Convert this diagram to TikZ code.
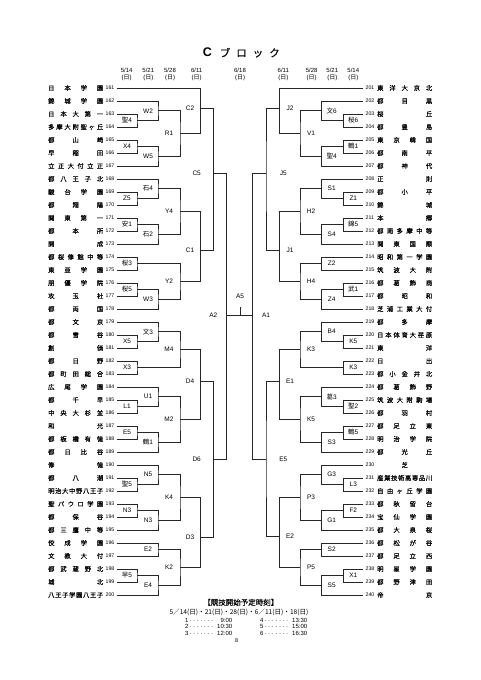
\documentclass[tikz,border=0pt]{standalone}
\usepackage{fontspec}
\setmainfont{Liberation Sans}
\newfontfamily\jp{Noto Sans CJK JP}
\newfontfamily\jpb{Noto Sans CJK JP}[FakeBold=0.3]
\def\spreadA#1{\ifx#1\relax\else#1\expandafter\spreadB\fi}
\def\spreadB#1{\ifx#1\relax\else\hfill#1\expandafter\spreadB\fi}
\newcommand\jname[1]{\hbox to 55pt{\jpb\expandafter\spreadA#1\relax}}
\newcommand\tleader[2]{\hbox to 47pt{#1\leaders\hbox to 3.6pt{\hss·\hss}\hfill\hbox to 15pt{\hss #2}}}
\tikzset{
  br/.style={line width=0.75pt, black!85},
  lab/.style={font=\fontsize{6.5}{7}\selectfont, inner sep=0pt},
  tname/.style={font=\fontsize{6.3}{7}\selectfont, inner sep=0pt},
  tnum/.style={font=\fontsize{5.2}{6}\selectfont, inner sep=0pt},
  datehd/.style={font=\fontsize{6}{7.3}\selectfont, inner sep=0pt, align=center},
  foot/.style={font=\fontsize{6}{7}\selectfont, inner sep=0pt},
}
\newcommand\mt[7]{%
  \coordinate (#1) at (#2,#3);
  \draw[br] (#4) -| (#1) |- (#5);
  \node[lab] (#1t) at (#7,#3) {#6};}
\begin{document}
\begin{tikzpicture}[x=1pt,y=-1pt]
\useasboundingbox[fill=white] (0,0) rectangle (481,680);
% title
\node[inner sep=0pt] (title) at (241.3,52.7) {{\fontsize{12.5}{14}\selectfont\bfseries C}\hspace{8pt}{\jpb\fontsize{10.5}{12}\selectfont ブ\hspace{6pt}ロ\hspace{6pt}ッ\hspace{6pt}ク}};
% dates
\foreach \dx/\dd [count=\j] in {126.7/5\slash14, 148.3/5\slash21, 170/5\slash28, 196.7/6\slash11, 240/6\slash18, 283.3/6\slash11, 311.7/5\slash28, 332.3/5\slash21, 353.3/5\slash14}
  \node[datehd] (d\j) at (\dx,74.7) {\dd\\({\jp 日})};
% left teams
\foreach \n/\nm [count=\i from 0] in {161/日本学園,162/錦城学園,163/日本大第一,164/多摩大附聖ヶ丘,165/都山崎,166/早稲田,167/立正大付立正,168/都八王子北,169/駿台学園,170/都翔陽,171/関東第一,172/都本所,173/開成,174/都桜修館中等,175/東亜学園,176/朋優学院,177/攻玉社,178/都両国,179/都文京,180/都雪谷,181/創価,182/都日野,183/都町田総合,184/広尾学園,185/都千早,186/中央大杉並,187/和光,188/都板橋有徳,189/都日比谷,190/修徳,191/都八潮,192/明治大中野八王子,193/聖パウロ学園,194/都保谷,195/都三鷹中等,196/佼成学園,197/文教大付,198/都武蔵野北,199/城北,200/八王子学園八王子}{
  \node[tname, anchor=west] (n\n) at (48,{88+13*\i}) {\jname{\nm}};
  \node[tnum, anchor=east] (k\n) at (114.5,{88+13*\i}) {\n};
  \coordinate (p\n) at (116.7,{88+13*\i});
}
% right teams
\foreach \n/\nm [count=\i from 0] in {201/東洋大京北,202/都目黒,203/桜丘,204/都豊島,205/東京韓国,206/都南平,207/都神代,208/正則,209/都小平,210/錦城,211/本郷,212/都南多摩中等,213/関東国際,214/昭和第一学園,215/筑波大附,216/都葛飾商,217/都昭和,218/芝浦工業大付,219/都多摩,220/日本体育大荏原,221/東洋,222/日出,223/都小金井北,224/都葛飾野,225/筑波大附駒場,226/都羽村,227/都足立東,228/明治学院,229/都光丘,230/\hfill 芝\hfill,231/産業技術高専品川,232/自由ヶ丘学園,233/都秋留台,234/宝仙学園,235/都大泉桜,236/都松が谷,237/都足立西,238/明星学園,239/都野津田,240/帝京}{
  \node[tname, anchor=west] (n\n) at (377,{88+13*\i}) {\jname{\nm}};
  \node[tnum, anchor=west] (k\n) at (365.5,{88+13*\i}) {\n};
  \coordinate (p\n) at (363.3,{88+13*\i});
}
% left bracket
\mt{lS4}{137}{120.5}{p163}{p164}{{\jp 聖}4}{127}
\mt{lW2}{158}{110.75}{p162}{lS4}{W2}{148}
\mt{lX4}{137}{146.5}{p165}{p166}{X4}{127}
\mt{lW5}{158}{156.25}{lX4}{p167}{W5}{148}
\mt{lR1}{180}{133.5}{lW2}{lW5}{R1}{169}
\mt{lC2}{200.7}{108.3}{p161}{lR1}{C2}{190}
\mt{lZ5}{137}{198.5}{p169}{p170}{Z5}{127}
\mt{lI4}{158}{188.75}{p168}{lZ5}{{\jp 石}4}{148}
\mt{lA1}{137}{224.5}{p171}{p172}{{\jp 安}1}{127}
\mt{lI2}{158}{234.25}{lA1}{p173}{{\jp 石}2}{148}
\mt{lY4}{180}{211.5}{lI4}{lI2}{Y4}{169}
\mt{lO3}{137}{263.5}{p174}{p175}{{\jp 桜}3}{127}
\mt{lO5}{137}{289.5}{p176}{p177}{{\jp 桜}5}{127}
\mt{lW3}{158}{299.25}{lO5}{p178}{W3}{148}
\mt{lY2}{180}{281.4}{lO3}{lW3}{Y2}{169}
\mt{lC1}{200.7}{250.7}{lY4}{lY2}{C1}{190}
\mt{lC5}{213.3}{173.3}{lC2}{lC1}{C5}{196.7}
\mt{lX5}{137}{341.5}{p180}{p181}{X5}{127}
\mt{lB3}{158}{331.75}{p179}{lX5}{{\jp 文}3}{148}
\mt{lX3}{137}{367.5}{p182}{p183}{X3}{127}
\mt{lM4}{180}{349.6}{lB3}{lX3}{M4}{169}
\mt{lL1}{137}{406.5}{p185}{p186}{L1}{127}
\mt{lU1}{158}{396.75}{p184}{lL1}{U1}{148}
\mt{lE5}{137}{432.5}{p187}{p188}{E5}{127}
\mt{lT1}{158}{442.25}{lE5}{p189}{{\jp 鶴}1}{148}
\mt{lM2}{180}{419.5}{lU1}{lT1}{M2}{169}
\mt{lD4}{200.7}{381}{lM4}{lM2}{D4}{190}
\mt{lS5}{137}{484.5}{p191}{p192}{{\jp 聖}5}{127}
\mt{lN5}{158}{474.75}{p190}{lS5}{N5}{148}
\mt{lN3a}{137}{510.5}{p193}{p194}{N3}{127}
\mt{lN3b}{158}{520.25}{lN3a}{p195}{N3}{148}
\mt{lK4}{180}{497.5}{lN5}{lN3b}{K4}{169}
\mt{lE2}{158}{549.5}{p196}{p197}{E2}{148}
\mt{lH5}{137}{575.5}{p198}{p199}{{\jp 早}5}{127}
\mt{lE4}{158}{585.25}{lH5}{p200}{E4}{148}
\mt{lK2}{180}{567.4}{lE2}{lE4}{K2}{169}
\mt{lD3}{200.7}{537}{lK4}{lK2}{D3}{190}
\mt{lD6}{213.3}{459}{lD4}{lD3}{D6}{196.7}
\mt{lA2}{226.7}{315.7}{lC5}{lD6}{A2}{213.3}
% right bracket
\mt{rO6}{343.3}{120.5}{p203}{p204}{{\jp 桜}6}{353.3}
\mt{rB6}{321.7}{110.75}{p202}{rO6}{{\jp 文}6}{331.7}
\mt{rT1}{343.3}{146.5}{p205}{p206}{{\jp 鶴}1}{353.3}
\mt{rS4}{321.7}{156.25}{rT1}{p207}{{\jp 聖}4}{331.7}
\mt{rV1}{300}{133.5}{rB6}{rS4}{V1}{311}
\mt{rJ2}{279.3}{108.3}{p201}{rV1}{J2}{290}
\mt{rZ1}{343.3}{198.5}{p209}{p210}{Z1}{353.3}
\mt{rS1}{321.7}{188.75}{p208}{rZ1}{S1}{331.7}
\mt{rG5}{343.3}{224.5}{p211}{p212}{{\jp 錦}5}{353.3}
\mt{rSS4}{321.7}{234.25}{rG5}{p213}{S4}{331.7}
\mt{rH2}{300}{211.5}{rS1}{rSS4}{H2}{311}
\mt{rZ2}{321.7}{263.5}{p214}{p215}{Z2}{331.7}
\mt{rW1}{343.3}{289.5}{p216}{p217}{{\jp 武}1}{353.3}
\mt{rZ4}{321.7}{299.25}{rW1}{p218}{Z4}{331.7}
\mt{rH4}{300}{281.4}{rZ2}{rZ4}{H4}{311}
\mt{rJ1}{279.3}{250.7}{rH2}{rH4}{J1}{290}
\mt{rJ5}{266}{173.3}{rJ2}{rJ1}{J5}{283.3}
\mt{rK5a}{343.3}{341.5}{p220}{p221}{K5}{353.3}
\mt{rB4}{321.7}{331.75}{p219}{rK5a}{B4}{331.7}
\mt{rK3a}{343.3}{367.5}{p222}{p223}{K3}{353.3}
\mt{rK3b}{300}{349.6}{rB4}{rK3a}{K3}{311}
\mt{rS2a}{343.3}{406.5}{p225}{p226}{{\jp 聖}2}{353.3}
\mt{rK3c}{321.7}{396.75}{p224}{rS2a}{{\jp 葛}3}{331.7}
\mt{rT5}{343.3}{432.5}{p227}{p228}{{\jp 鶴}5}{353.3}
\mt{rS3}{321.7}{442.25}{rT5}{p229}{S3}{331.7}
\mt{rK5b}{300}{419.5}{rK3c}{rS3}{K5}{311}
\mt{rE1}{279.3}{381}{rK3b}{rK5b}{E1}{290}
\mt{rL3}{343.3}{484.5}{p231}{p232}{L3}{353.3}
\mt{rG3}{321.7}{474.75}{p230}{rL3}{G3}{331.7}
\mt{rF2}{343.3}{510.5}{p233}{p234}{F2}{353.3}
\mt{rG1}{321.7}{520.25}{rF2}{p235}{G1}{331.7}
\mt{rP3}{300}{497.5}{rG3}{rG1}{P3}{311}
\mt{rS2}{321.7}{549.5}{p236}{p237}{S2}{331.7}
\mt{rX1}{343.3}{575.5}{p238}{p239}{X1}{353.3}
\mt{rS5}{321.7}{585.25}{rX1}{p240}{S5}{331.7}
\mt{rP5}{300}{567.4}{rS2}{rS5}{P5}{311}
\mt{rE2}{279.3}{536.7}{rP3}{rP5}{E2}{290}
\mt{rE5}{266}{459}{rE1}{rE2}{E5}{283.3}
\mt{rA1}{252.7}{315.7}{rJ5}{rE5}{A1}{266}
% final
\coordinate (A5) at (240,315.7);
\coordinate (A5top) at (240,306.7);
\draw[br] (lA2) -- (A5) -- (rA1);
\draw[br] (A5) -- (A5top);
\node[lab] (A5t) at (240,296.7) {A5};
% footer
\node[inner sep=0pt] (ft) at (240.8,602.3) {\jpb\fontsize{7.5}{8}\selectfont 【競技開始予定時刻】};
\node[inner sep=0pt] (fd) at (239,612.7) {\jp\fontsize{6.6}{7}\selectfont 5／14(日)・21(日)・28(日)・6／11(日)・18(日)};
\node[foot, anchor=west] (t1) at (185,620) {\tleader{1}{9:00}};
\node[foot, anchor=west] (t2) at (185,626.7) {\tleader{2}{10:30}};
\node[foot, anchor=west] (t3) at (185,633.3) {\tleader{3}{12:00}};
\node[foot, anchor=west] (t4) at (260,620) {\tleader{4}{13:30}};
\node[foot, anchor=west] (t5) at (260,626.7) {\tleader{5}{15:00}};
\node[foot, anchor=west] (t6) at (260,633.3) {\tleader{6}{16:30}};
\node[font=\fontsize{5.5}{6}\selectfont, inner sep=0pt] (pg) at (236.7,640.7) {8};
\end{tikzpicture}
\end{document}
